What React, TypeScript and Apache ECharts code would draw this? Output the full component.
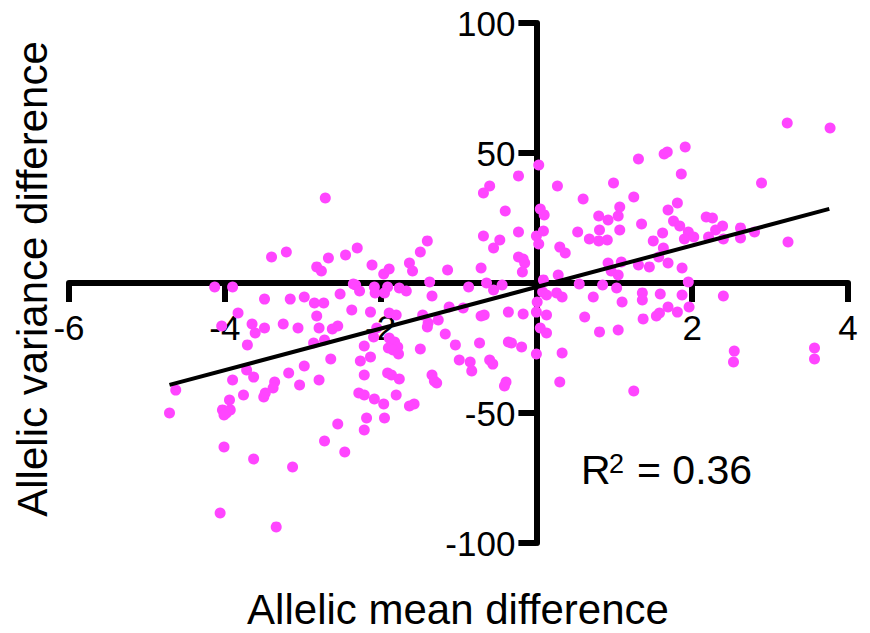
import React, { useEffect, useRef } from "react";
import * as echarts from "echarts";

// Allelic mean difference (x) for each locus
const meanDiff: number[] = [
  -2.71, -3.40, -3.21, -2.82, -2.76, -2.67, -2.45, -2.30, -2.11, -1.96,
  -1.89, -1.63, -1.59, -1.49, -1.40, -1.37, -1.14, -0.71, -0.64, -0.23,
  -0.17, -0.15, -0.18, 0.03, -0.23, -0.60, -0.68, -0.40, -0.23, -0.68,
  -0.47, -0.55, 0.00, 0.03, 0.05, 0.10, 0.09, 0.09, 0.27, 0.99,
  1.31, 1.64, 1.68, 1.91, 1.86, 3.22, 3.77, 2.89, 0.60, 1.25,
  1.07, 1.05, 0.80, 0.92, 1.81, 1.69, 2.18, 2.26, 1.76, 1.84,
  2.39, 2.30, 2.62, 2.80, 1.35, 1.07, 0.81, 0.53, 0.68, 0.80,
  0.91, 1.50, 1.62, 1.95, 1.90, 2.02, 2.21, 2.40, 2.62, 3.23,
  0.30, 0.37, 1.63, 1.57, 0.92, 1.09, 0.96, 1.05, 1.31, 1.45,
  1.69, 1.87, 0.28, 0.55, 0.85, 1.95, -2.35, -4.13, -3.90, -0.87,
  -0.55, -0.44, 1.03, -2.32, -2.27, -2.08, -2.07, -1.91, -1.95, -1.76,
  -1.67, -2.52, -2.98, -3.16, -3.49, -2.85, -2.73, -3.83, -2.82, -2.37,
  -2.13, -1.89, -1.80, -1.34, 0.08, 0.13, 0.26, 0.33, 0.73, 1.36,
  1.36, 1.59, 1.87, 2.40, 0.01, 1.10, 1.69, 1.58, 1.54, 1.81,
  1.96, 0.00, 0.13, 0.62, -0.36, -0.17, -0.67, -0.71, -1.12, -0.94,
  0.05, 0.13, 0.00, 0.81, 1.05, 1.37, 0.33, 0.30, 1.25, 2.54,
  2.53, 3.57, 3.57, -1.46, -1.39, -1.40, -1.26, -2.05, -2.09, -2.21,
  -1.89, -1.82, -1.78, -1.90, -1.84, -1.77, -1.49, -1.17, -1.04, -0.73,
  -0.36, -0.32, -0.19, -2.26, -2.13, -0.99, -0.85, -0.83, -0.60, -0.56,
  -2.21, -1.91, -1.86, -1.76, -1.34, -1.31, -1.28, -0.39, -0.41, -2.28,
  -2.21, -1.80, -2.08, -1.96, -1.63, -1.57, -2.18, -1.95, -2.21, -4.04,
  -3.65, -3.61, -3.49, -3.25, -3.06, -2.79, -2.62, -2.55, -3.71, -2.86,
  -2.72, -2.64, -3.72, -3.63, -3.90, -3.76, -3.36, -3.38, -3.50, -3.48,
  -3.18, -2.98, -3.04, -2.79, -4.63, -4.71, -3.94, -4.03, -3.98, -3.93,
  -4.01, -2.55, -2.72, -2.46, -4.01, -3.63, -3.13, -4.06, -3.34,
];

// Allelic variance difference (y) for each locus
const varianceDiff: number[] = [
  32.7, 10.0, 11.9, 6.2, 4.6, 9.6, 10.8, 13.5, 6.9, 3.5,
  5.4, 7.7, 4.6, 11.9, 16.2, 0.4, 5.0, 5.8, 0.0, 10.0,
  9.2, 7.7, 4.2, 45.4, 41.2, 37.3, 34.6, 27.7, 19.6, 18.1,
  16.5, 13.5, 18.1, 15.0, 28.5, 26.2, 20.0, 1.2, 37.3, 38.5,
  47.7, 49.6, 50.4, 52.3, 41.9, 61.5, 59.6, 38.5, 32.3, 33.1,
  29.2, 25.8, 25.8, 24.2, 30.8, 28.1, 25.4, 25.0, 23.8, 21.9,
  21.9, 20.4, 21.2, 19.6, 22.7, 20.4, 20.4, 19.6, 16.9, 16.2,
  16.5, 16.2, 19.2, 19.6, 16.9, 17.7, 17.7, 16.9, 17.3, 15.8,
  13.8, 11.5, 13.5, 10.0, 7.7, 8.1, 4.6, 3.1, 6.9, 6.2,
  7.7, 5.8, 3.1, -0.4, -0.8, 0.4, -0.4, -1.5, -1.5, -1.5,
  -2.7, -0.8, -1.9, -0.8, -3.1, -1.5, -3.8, -1.5, -3.8, -1.9,
  -3.1, -4.2, -5.4, -6.2, -6.2, -7.7, -7.7, -11.5, -12.7, -10.4,
  -11.2, -11.5, -12.3, -5.0, -3.5, -4.6, -3.8, -5.4, -5.4, -3.8,
  -6.5, -4.2, -4.6, -5.0, -7.3, -7.3, -9.2, -11.5, -12.7, -11.2,
  -9.2, -11.2, -12.3, -13.1, -11.2, -11.9, -12.3, -12.7, -9.2, -9.6,
  -17.3, -19.2, -27.3, -18.8, -18.1, -13.8, -26.9, -38.1, -41.5, -26.2,
  -30.4, -25.0, -29.2, -12.3, -15.4, -16.9, -14.2, -17.3, -20.8, -24.2,
  -21.2, -22.7, -24.6, -25.0, -25.8, -27.3, -25.4, -19.6, -23.8, -23.1,
  -22.7, -23.1, -24.6, -30.0, -28.5, -29.6, -30.4, -33.8, -29.6, -31.2,
  -35.4, -34.6, -35.4, -36.9, -35.4, -37.7, -38.5, -38.1, -39.6, -42.3,
  -43.1, -43.1, -44.6, -46.5, -47.3, -46.5, -51.9, -51.9, -56.5, -16.5,
  -15.8, -19.2, -17.3, -15.8, -17.3, -17.3, -17.7, -16.5, -23.8, -23.1,
  -21.9, -29.2, -33.5, -36.2, -37.3, -43.1, -38.1, -40.4, -43.8, -42.3,
  -34.6, -31.9, -39.2, -37.3, -41.2, -50.0, -45.0, -48.8, -50.0, -48.8,
  -50.8, -54.2, -60.8, -65.0, -63.1, -67.7, -70.8, -88.5, -93.8,
];

// Regression line end points
const fitX: number[] = [-4.71, 3.76];
const fitY: number[] = [-39.2, 28.5];

// Axis ranges / tick steps
const xRange: number[] = [-6, 4, 2];
const yRange: number[] = [-100, 100, 50];

const xTitle = "Allelic mean difference";
const yTitle = "Allelic variance difference";
const rLabel = ["R", "2", "= 0.36"];

const FONT = "'Liberation Sans', Arial, Helvetica, sans-serif";

// plot box in pixels
const GRID = { left: 69, right: 22, top: 23, bottom: 90 };

export default function App() {
  const ref = useRef<HTMLDivElement>(null);

  useEffect(() => {
    if (!ref.current) return;
    const chart = echarts.init(ref.current, undefined, { renderer: "svg" });

    const points = meanDiff.map((x, i) => [x, varianceDiff[i]]);
    const fit = fitX.map((x, i) => [x, fitY[i]]);

    const hideZero = (v: number) => (v === 0 ? "" : String(v));

    const plotW = 870 - GRID.left - GRID.right;
    const plotH = 633 - GRID.top - GRID.bottom;
    // move axes so they cross at the data origin
    const xAxisOffset = -plotH * (yRange[1] / (yRange[1] - yRange[0]));
    const yAxisOffset = -plotW * ((0 - xRange[0]) / (xRange[1] - xRange[0]));

    chart.setOption({
      animation: false,
      backgroundColor: "#ffffff",
      grid: {
        ...GRID,
        containLabel: false,
        outerBoundsMode: "none",
      },
      xAxis: {
        type: "value",
        position: "bottom",
        offset: xAxisOffset,
        min: xRange[0],
        max: xRange[1],
        interval: xRange[2],
        splitLine: { show: false },
        axisLine: {
          show: true,
          onZero: false,
          lineStyle: { color: "#000", width: 6 },
        },
        axisTick: {
          show: true,
          length: 19,
          lineStyle: { color: "#000", width: 6 },
        },
        axisLabel: {
          color: "#000",
          fontSize: 35,
          fontFamily: FONT,
          margin: 27,
          formatter: hideZero,
        },
      },
      yAxis: {
        type: "value",
        position: "left",
        offset: yAxisOffset,
        min: yRange[0],
        max: yRange[1],
        interval: yRange[2],
        splitLine: { show: false },
        axisLine: {
          show: true,
          onZero: false,
          lineStyle: { color: "#000", width: 6 },
        },
        axisTick: {
          show: true,
          length: 18,
          lineStyle: { color: "#000", width: 6 },
        },
        axisLabel: {
          color: "#000",
          fontSize: 35,
          fontFamily: FONT,
          margin: 21,
          formatter: hideZero,
        },
      },
      series: [
        {
          type: "scatter",
          data: points,
          symbol: "circle",
          symbolSize: 11,
          itemStyle: { color: "#ff45ff", opacity: 1 },
          z: 2,
        },
        {
          type: "line",
          data: fit,
          symbol: "none",
          lineStyle: { color: "#000", width: 4 },
          z: 3,
        },
      ],
      graphic: [
        {
          type: "text",
          x: 458,
          y: 609,
          style: {
            text: xTitle,
            fill: "#000",
            font: `42px ${FONT}`,
            align: "center",
            verticalAlign: "middle",
          },
        },
        {
          type: "text",
          x: 32,
          y: 279,
          rotation: Math.PI / 2,
          style: {
            text: yTitle,
            fill: "#000",
            font: `42px ${FONT}`,
            align: "center",
            verticalAlign: "middle",
          },
        },
        {
          type: "text",
          x: 581,
          y: 470,
          style: {
            text: rLabel[0],
            fill: "#000",
            font: `41px ${FONT}`,
            align: "left",
            verticalAlign: "middle",
          },
        },
        {
          type: "text",
          x: 609,
          y: 464,
          style: {
            text: rLabel[1],
            fill: "#000",
            font: `27px ${FONT}`,
            align: "left",
            verticalAlign: "middle",
          },
        },
        {
          type: "text",
          x: 637,
          y: 470,
          style: {
            text: rLabel[2],
            fill: "#000",
            font: `41px ${FONT}`,
            align: "left",
            verticalAlign: "middle",
          },
        },
      ],
    });

    return () => chart.dispose();
  }, []);

  return (
    <div
      ref={ref}
      style={{ position: "fixed", left: 0, top: 0, width: 870, height: 633, background: "#fff" }}
    />
  );
}
